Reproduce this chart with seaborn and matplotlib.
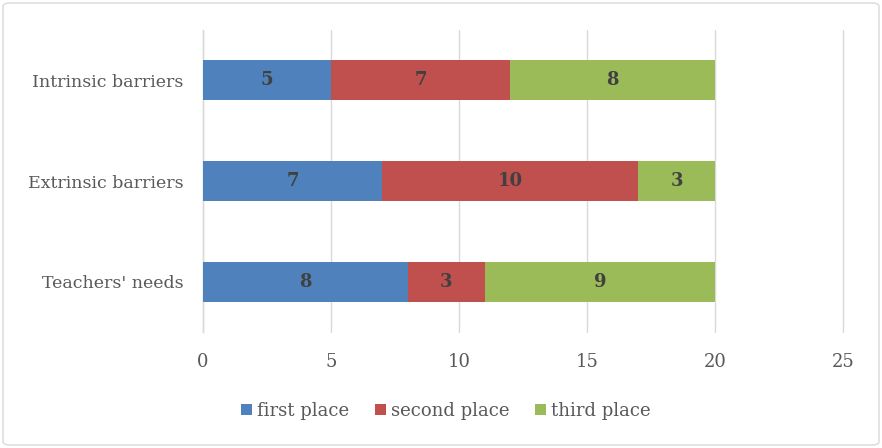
import matplotlib
matplotlib.use("Agg")
import matplotlib.pyplot as plt
import seaborn as sns
import numpy as np
import pandas as pd
from matplotlib.patches import Patch, FancyBboxPatch

categories = ["Intrinsic barriers", "Extrinsic barriers", "Teachers' needs"]
first_place = [5, 7, 8]
second_place = [7, 10, 3]
third_place = [8, 3, 9]
series_names = ["first place", "second place", "third place"]
colors = ["#4F81BD", "#C0504D", "#9BBB59"]
xticks = [0, 5, 10, 15, 20, 25]

sns.set_style("white")
plt.rcParams["font.family"] = ["DejaVu Serif"]

fig = plt.figure(figsize=(8.82, 4.48), dpi=100)
ax = fig.add_axes([203 / 882, 1 - 332 / 448, (843 - 203) / 882, (332 - 30) / 448])

vals = np.array([first_place, second_place, third_place], dtype=float)
cum = np.cumsum(vals, axis=0)

# draw from largest cumulative to smallest so segments stack
for i in range(2, -1, -1):
    df = pd.DataFrame({"cat": categories, "val": cum[i]})
    sns.barplot(data=df, y="cat", x="val", color=colors[i], orient="h",
                width=0.4, linewidth=0, saturation=1, ax=ax, zorder=3)

for i in range(3):
    starts = cum[i] - vals[i]
    for j, cat in enumerate(categories):
        ax.text(starts[j] + vals[i][j] / 2, j, f"{int(vals[i][j])}",
                ha="center", va="center", fontsize=13, fontweight="bold",
                color="#404040", zorder=5)

ax.set_xlim(0, 25)
ax.set_ylim(2.5, -0.5)
ax.set_xticks(xticks)
ax.set_xticklabels([str(t) for t in xticks])
ax.xaxis.grid(True, color="#D9D9D9", linewidth=1, zorder=0)
for gl in ax.get_xgridlines():
    gl.set_clip_on(False)
ax.set_axisbelow(True)
for s in ["top", "right", "bottom"]:
    ax.spines[s].set_visible(False)
ax.spines["left"].set_color("#D9D9D9")
ax.spines["left"].set_linewidth(1)
ax.set_xlabel("")
ax.set_ylabel("")
ax.tick_params(axis="x", length=0, pad=15, labelsize=13, labelcolor="#595959")
ax.tick_params(axis="y", length=0, pad=14, labelsize=12.5, labelcolor="#595959")

handles = [Patch(facecolor=c, edgecolor="none") for c in colors]
fig.legend(handles, series_names, loc="center", bbox_to_anchor=(446 / 882, 1 - 411 / 448),
           ncol=3, frameon=False, fontsize=13, labelcolor="#595959",
           handlelength=0.6, handleheight=0.6, handletextpad=0.3, columnspacing=1.4)

border = FancyBboxPatch((3 / 882, 3 / 448), 1 - 6 / 882, 1 - 6 / 448,
                        boxstyle="round,pad=0,rounding_size=0.008",
                        transform=fig.transFigure, facecolor="none",
                        edgecolor="#D9D9D9", linewidth=1)
fig.patches.append(border)

fig.savefig("out.png", dpi=100)
